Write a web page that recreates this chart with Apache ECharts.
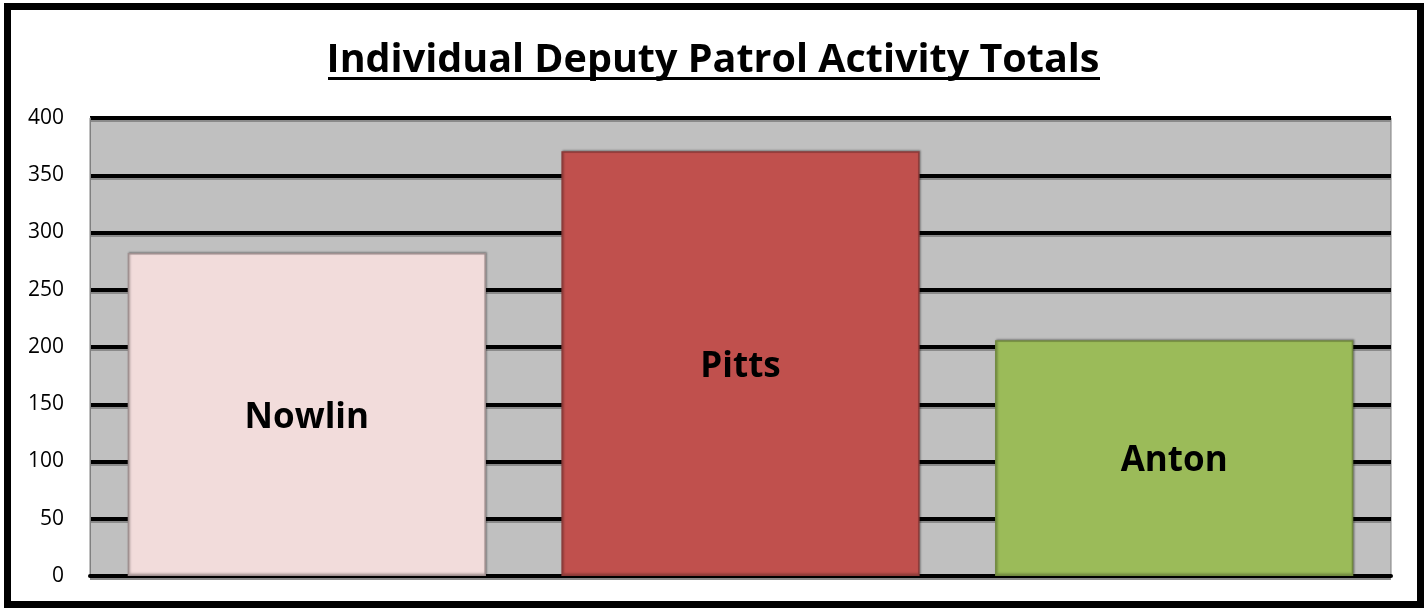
<!DOCTYPE html>
<html>
<head>
<meta charset="utf-8">
<script src="https://cdn.jsdelivr.net/npm/echarts@6/dist/echarts.min.js"></script>
<style>
html, body { margin: 0; padding: 0; background: #fff; }
#chart { position: absolute; left: 0; top: 0; width: 1426px; height: 609px; }
.frame {
  position: absolute; left: 4px; top: 3px; width: 1420px; height: 605px;
  border: 7px solid #000; box-sizing: border-box; pointer-events: none;
}
</style>
</head>
<body>
<div id="chart"></div>
<div class="frame"></div>
<script>
// deputies and their totals
var deputies = ['Nowlin', 'Pitts', 'Anton'];
var totals = [282, 371, 206];
var barColors = ['#f2dcdb', '#c0504d', '#9bbb59'];
var barBorders = ['#a09090', '#8c3a38', '#71893f'];

var chart = echarts.init(document.getElementById('chart'));

var opt = {
  animation: false,
  title: {
    text: 'Individual Deputy Patrol Activity Totals',
    left: 'center',
    top: 36,
    textStyle: {
      fontFamily: 'Open Sans',
      fontWeight: 'bold',
      fontSize: 39.5,
      color: '#000'
    }
  },
  graphic: [
    { // underline under the title
      type: 'rect',
      shape: { x: 328, y: 77, width: 772, height: 3 },
      style: { fill: '#000' }
    }
  ],
  grid: {
    left: 90, right: 35, top: 118, bottom: 33,
    show: true,
    backgroundColor: '#c0c0c0',
    borderColor: '#808080',
    borderWidth: 1
  },
  xAxis: {
    type: 'category',
    data: deputies,
    axisLine: { lineStyle: { color: '#000', width: 4 } },
    axisTick: { show: false },
    axisLabel: { show: false }
  },
  yAxis: {
    type: 'value',
    min: 0, max: 400, interval: 50,
    axisLine: { show: true, lineStyle: { color: '#808080', width: 1 } },
    axisTick: { show: false },
    axisLabel: {
      margin: 26,
      fontFamily: 'Open Sans',
      fontSize: 21,
      color: '#000'
    },
    splitLine: {
      lineStyle: {
        color: '#000', width: 4,
        shadowColor: '#8a8a8a', shadowOffsetY: 2, shadowBlur: 0
      }
    }
  },
  series: [{
    type: 'bar',
    barWidth: '82.6%',
    data: totals.map(function (v, i) {
      return {
        value: v,
        itemStyle: { color: barColors[i], borderColor: barBorders[i], borderWidth: 1.5 }
      };
    }),
    itemStyle: {
      shadowColor: 'rgba(0,0,0,0.3)', shadowBlur: 2, shadowOffsetX: 1, shadowOffsetY: -1
    },
    label: {
      show: true,
      position: 'inside',
      offset: [0, 3],
      formatter: '{b}',
      fontFamily: 'Open Sans',
      fontWeight: 'bold',
      fontSize: 35,
      color: '#000'
    }
  }]
};
chart.setOption(opt);
</script>
</body>
</html>
